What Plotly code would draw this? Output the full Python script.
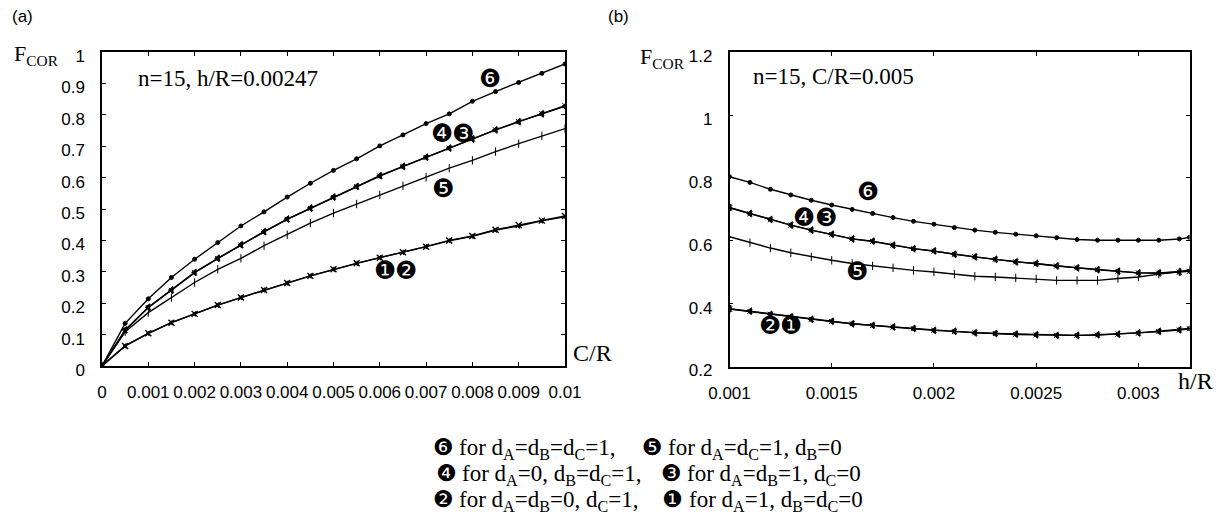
import plotly.graph_objects as go

W, H = 1221, 520

# ---------------- data: panel (a) ----------------
cr = [0, 0.0005, 0.001, 0.0015, 0.002, 0.0025, 0.003, 0.0035, 0.004, 0.0045, 0.005,
      0.0055, 0.006, 0.0065, 0.007, 0.0075, 0.008, 0.0085, 0.009, 0.0095, 0.01]
a_f6 = [0, 0.136, 0.214, 0.282, 0.340, 0.393, 0.446, 0.491, 0.538, 0.582, 0.623,
        0.660, 0.701, 0.736, 0.772, 0.803, 0.843, 0.874, 0.903, 0.932, 0.962]
a_f4 = [0, 0.115, 0.187, 0.242, 0.298, 0.343, 0.386, 0.428, 0.468, 0.503, 0.538,
        0.572, 0.606, 0.636, 0.665, 0.694, 0.723, 0.752, 0.778, 0.803, 0.827]
a_f3 = [0, 0.113, 0.186, 0.241, 0.297, 0.342, 0.385, 0.427, 0.467, 0.502, 0.537,
        0.571, 0.605, 0.635, 0.664, 0.694, 0.723, 0.752, 0.778, 0.804, 0.829]
a_f5 = [0, 0.109, 0.170, 0.218, 0.266, 0.308, 0.343, 0.383, 0.418, 0.455, 0.487,
        0.516, 0.545, 0.574, 0.601, 0.630, 0.655, 0.683, 0.708, 0.733, 0.756]
a_f2 = [0, 0.064, 0.104, 0.138, 0.166, 0.194, 0.218, 0.242, 0.264, 0.287, 0.308,
        0.327, 0.345, 0.362, 0.380, 0.400, 0.414, 0.434, 0.449, 0.463, 0.478]
a_f1 = [0, 0.064, 0.104, 0.138, 0.166, 0.194, 0.218, 0.242, 0.264, 0.287, 0.308,
        0.327, 0.345, 0.362, 0.380, 0.399, 0.413, 0.433, 0.446, 0.462, 0.475]

# ---------------- data: panel (b) ----------------
hr = [0.001, 0.0011, 0.0012, 0.0013, 0.0014, 0.0015, 0.0016, 0.0017, 0.0018, 0.0019,
      0.002, 0.0021, 0.0022, 0.0023, 0.0024, 0.0025, 0.0026, 0.0027, 0.0028, 0.0029,
      0.003, 0.0031, 0.0032, 0.00325]
b_f6 = [0.804, 0.786, 0.764, 0.746, 0.729, 0.714, 0.700, 0.687, 0.674, 0.662, 0.653, 0.642,
        0.634, 0.627, 0.621, 0.616, 0.610, 0.604, 0.602, 0.602, 0.602, 0.602, 0.606, 0.611]
b_f4 = [0.706, 0.687, 0.668, 0.650, 0.634, 0.621, 0.606, 0.599, 0.586, 0.575, 0.568, 0.557,
        0.549, 0.541, 0.533, 0.528, 0.520, 0.514, 0.508, 0.503, 0.498, 0.498, 0.501, 0.504]
b_f3 = [0.705, 0.686, 0.667, 0.650, 0.634, 0.620, 0.606, 0.598, 0.586, 0.575, 0.567, 0.557,
        0.549, 0.541, 0.533, 0.527, 0.520, 0.514, 0.508, 0.503, 0.498, 0.497, 0.500, 0.503]
b_f5 = [0.613, 0.594, 0.577, 0.562, 0.549, 0.538, 0.528, 0.520, 0.514, 0.506, 0.501, 0.494,
        0.487, 0.485, 0.482, 0.479, 0.474, 0.474, 0.474, 0.480, 0.485, 0.494, 0.501, 0.508]
b_f2 = [0.384, 0.376, 0.366, 0.358, 0.350, 0.344, 0.336, 0.331, 0.326, 0.321, 0.315, 0.312,
        0.307, 0.305, 0.303, 0.301, 0.299, 0.299, 0.301, 0.303, 0.307, 0.312, 0.317, 0.321]
b_f1 = [0.383, 0.375, 0.366, 0.357, 0.350, 0.343, 0.336, 0.330, 0.325, 0.320, 0.315, 0.311,
        0.307, 0.305, 0.302, 0.301, 0.299, 0.299, 0.300, 0.303, 0.306, 0.311, 0.316, 0.320]

# tick labels
a_xticks = [0, 0.001, 0.002, 0.003, 0.004, 0.005, 0.006, 0.007, 0.008, 0.009, 0.01]
a_xtext = ["0", "0.001", "0.002", "0.003", "0.004", "0.005", "0.006", "0.007", "0.008", "0.009", "0.01"]
a_yticks = [0, 0.1, 0.2, 0.3, 0.4, 0.5, 0.6, 0.7, 0.8, 0.9, 1]
a_ytext = ["0", "0.1", "0.2", "0.3", "0.4", "0.5", "0.6", "0.7", "0.8", "0.9", "1"]
b_xticks = [0.001, 0.0015, 0.002, 0.0025, 0.003]
b_xtext = ["0.001", "0.0015", "0.002", "0.0025", "0.003"]
b_yticks = [0.2, 0.4, 0.6, 0.8, 1.0, 1.2]
b_ytext = ["0.2", "0.4", "0.6", "0.8", "1", "1.2"]

# curve number labels (circled digits) placed in data coordinates
a_labels = [("❻", 0.00839, 0.915), ("❹", 0.00735, 0.740), ("❸", 0.00780, 0.740),
            ("❺", 0.00737, 0.566), ("❶", 0.00612, 0.304), ("❷", 0.00656, 0.304)]
b_labels = [("❻", 0.001679, 0.758), ("❹", 0.001365, 0.674), ("❸", 0.001471, 0.674),
            ("❺", 0.001623, 0.501), ("❷", 0.001196, 0.331), ("❶", 0.001299, 0.331)]

# bottom legend: (numeral, text) for left and right columns
legend_left = [("❻", "for d<sub>A</sub>=d<sub>B</sub>=d<sub>C</sub>=1,"),
               ("❹", "for d<sub>A</sub>=0, d<sub>B</sub>=d<sub>C</sub>=1,"),
               ("❷", "for d<sub>A</sub>=d<sub>B</sub>=0, d<sub>C</sub>=1,")]
legend_right = [("❺", "for d<sub>A</sub>=d<sub>C</sub>=1, d<sub>B</sub>=0"),
                ("❸", "for d<sub>A</sub>=d<sub>B</sub>=1, d<sub>C</sub>=0"),
                ("❶", "for d<sub>A</sub>=1, d<sub>B</sub>=d<sub>C</sub>=0")]

SERIF = "Liberation Serif, Times New Roman, serif"
SANS = "Liberation Sans, Arial, sans-serif"
DING = "DejaVu Sans"

def px_x(p):
    return p / W

def px_y(p):
    return 1 - p / H

fig = go.Figure()

LW = 1.4
def add(x, y, sym, size, xa, ya, mlw=1):
    fig.add_trace(go.Scatter(
        x=x, y=y, mode="lines+markers", xaxis=xa, yaxis=ya, showlegend=False,
        line=dict(color="black", width=LW),
        marker=dict(symbol=sym, size=size, color="black", line=dict(color="black", width=mlw)),
        hoverinfo="x+y"))

# panel (a)
add(cr, a_f6, "circle", 4, "x", "y")
add(cr, a_f4, "triangle-left", 6, "x", "y")
add(cr, a_f3, "x-thin-open", 5, "x", "y")
add(cr, a_f5, "line-ns-open", 6, "x", "y")
add(cr, a_f2, "x-thin-open", 6, "x", "y", 1.4)
add(cr, a_f1, "triangle-left", 4, "x", "y")
# panel (b)
add(hr, b_f6, "circle", 4, "x2", "y2")
add(hr, b_f4, "triangle-left", 6, "x2", "y2")
add(hr, b_f3, "x-thin-open", 5, "x2", "y2")
add(hr, b_f5, "line-ns-open", 6, "x2", "y2")
add(hr, b_f2, "triangle-left", 6, "x2", "y2")
add(hr, b_f1, "x-thin-open", 5, "x2", "y2")

axis_common = dict(
    showline=True, linecolor="black", linewidth=1.5, mirror="ticks",
    ticks="inside", ticklen=4, tickwidth=1, tickcolor="black",
    showgrid=False, zeroline=False, automargin=False,
    tickfont=dict(family=SANS, size=17, color="black"),
)

fig.update_layout(
    template="none",
    width=W, height=H,
    margin=dict(l=0, r=0, t=0, b=0, pad=0, autoexpand=False),
    paper_bgcolor="white", plot_bgcolor="white",
    xaxis=dict(domain=[px_x(102), px_x(565)], range=[0, 0.01], anchor="y",
               tickvals=a_xticks, ticktext=a_xtext, ticklabelstandoff=10, **axis_common),
    yaxis=dict(domain=[px_y(366), px_y(52)], range=[0, 1], anchor="x",
               tickvals=a_yticks, ticktext=a_ytext, ticklabelstandoff=12, ticklabelshift=4,
               **axis_common),
    xaxis2=dict(domain=[px_x(729.5), px_x(1189.5)], range=[0.001, 0.00325], anchor="y2",
                tickvals=b_xticks, ticktext=b_xtext, ticklabelstandoff=10, **axis_common),
    yaxis2=dict(domain=[px_y(366.5), px_y(52.3)], range=[0.2, 1.2], anchor="x2",
                tickvals=b_yticks, ticktext=b_ytext, ticklabelstandoff=12, ticklabelshift=4,
                **axis_common),
)

ann = []
def paper_text(text, x, y, size, family=SERIF, xanchor="left", yanchor="middle"):
    ann.append(dict(text=text, x=px_x(x), y=px_y(y), xref="paper", yref="paper",
                    xanchor=xanchor, yanchor=yanchor, showarrow=False,
                    font=dict(family=family, size=size, color="black")))

# panel letters
paper_text("(a)", 10, 16, 17, SANS)
paper_text("(b)", 606, 16, 17, SANS)
# y axis titles
paper_text("F<sub>COR</sub>", 12, 55, 22)
paper_text("F<sub>COR</sub>", 638, 58, 22)
# x axis titles
paper_text("C/R", 571, 353, 24)
paper_text("h/R", 1176, 381, 24)
# in-plot captions
paper_text("n=15, h/R=0.00247", 136, 78, 23)
paper_text("n=15, C/R=0.005", 751, 76, 23)

# curve number labels
for t, x, y in a_labels:
    ann.append(dict(text=t, x=x, y=y, xref="x", yref="y", showarrow=False,
                    font=dict(family=DING, size=25, color="black")))
for t, x, y in b_labels:
    ann.append(dict(text=t, x=x, y=y, xref="x2", yref="y2", showarrow=False,
                    font=dict(family=DING, size=25, color="black")))

# bottom legend text
leg_y = [449, 475, 501]
left_x = [434, 437, 434]
right_x = [643, 662, 664]
for (ln, lt), (rn, rt), yy, lx, rx in zip(legend_left, legend_right, leg_y, left_x, right_x):
    paper_text(ln, lx + 9, yy - 2, 23, DING, xanchor="center")
    paper_text(lt, lx + 23, yy, 23)
    paper_text(rn, rx + 9, yy - 2, 23, DING, xanchor="center")
    paper_text(rt, rx + 23, yy, 23)

fig.update_layout(annotations=ann)

fig.write_html(
    "out.html",
    config={"displayModeBar": False},
    post_script="document.body.style.margin='0';document.body.style.overflow='hidden';",
)
